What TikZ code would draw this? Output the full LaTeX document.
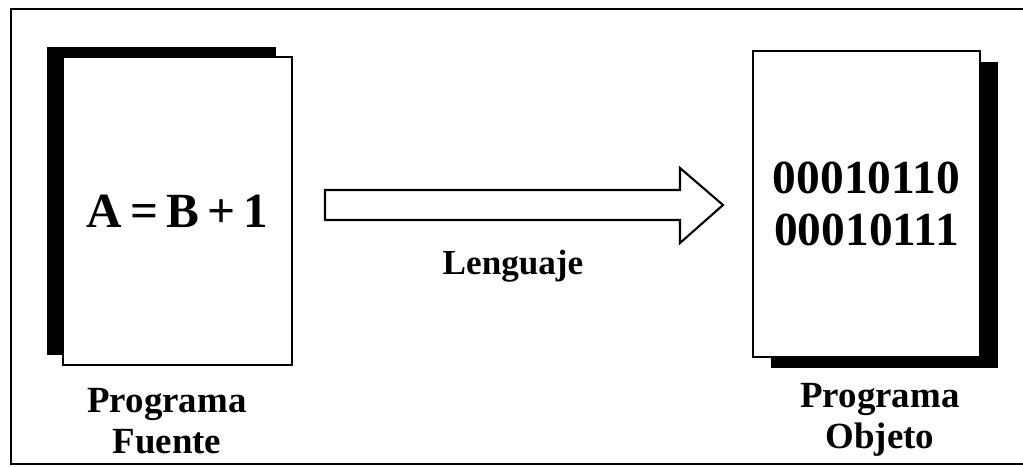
\documentclass[tikz,border=0pt]{standalone}
\usepackage{fontspec}
\setmainfont{Liberation Serif}
\usetikzlibrary{shadows, positioning}

\begin{document}
\begin{tikzpicture}[
    x=0.02cm, y=-0.02cm, line width=1.2pt,
    page/.style={draw, fill=white, inner sep=0pt, font=\bfseries, align=center},
    caption/.style={font=\fontsize{21}{23.5}\selectfont\bfseries, align=center},
    fat-arrow/.style={draw, fill=white, line join=miter}
  ]

  \useasboundingbox (0,0) rectangle (1023,466);
  \draw (1023,9) -- (11,9) -- (11,464) -- (1023,464);

  \node[page, minimum width=4.58cm, minimum height=6.16cm,
        drop shadow={shadow xshift=-0.32cm, shadow yshift=0.2cm, fill=black, opacity=1},
        font=\fontsize{28}{32}\selectfont\bfseries] (fuente) at (177.5,211) {A\,=\,B\,+\,1};
  \node[caption] (lblf) at (167,421) {Programa\\Fuente};

  \node[page, minimum width=4.54cm, minimum height=6.12cm,
        drop shadow={shadow xshift=0.36cm, shadow yshift=-0.22cm, fill=black, opacity=1},
        font=\fontsize{27}{30}\selectfont\bfseries] (objeto) at (866.5,204) {00010110\\00010111};
  \node[caption] (lblo) at (880,420) {Programa\\Objeto};

  \coordinate (tail) at (325,205);
  \coordinate (tip) at (723,205);
  \draw[fat-arrow] (tail) ++(0,-15) -- ++(355,0) -- ++(0,-22) -- (tip)
    -- ++(-43,38) -- ++(0,-23) -- ++(-355,0) -- cycle;
  \node[caption, font=\fontsize{20}{24}\selectfont\bfseries] (leng) at (513,266) {Lenguaje};

\end{tikzpicture}
\end{document}
